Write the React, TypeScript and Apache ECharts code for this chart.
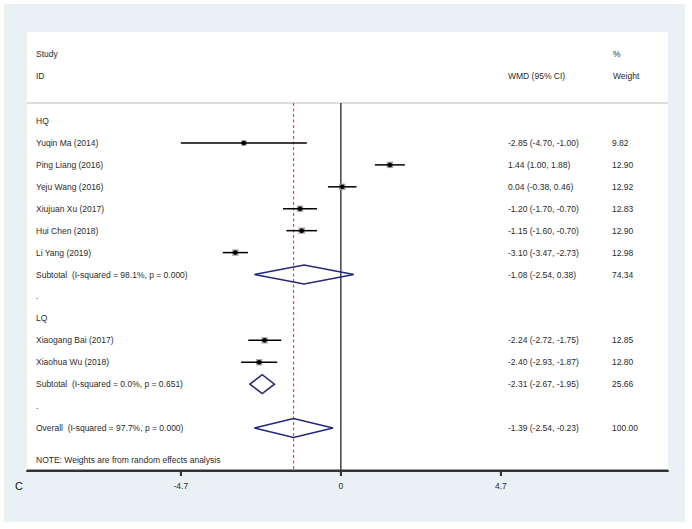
import { useEffect, useRef } from "react";
import * as echarts from "echarts";

// ---- Data ----
const rowLabels = [
  "HQ",
  "Yuqin Ma (2014)",
  "Ping Liang (2016)",
  "Yeju Wang (2016)",
  "Xiujuan Xu (2017)",
  "Hui Chen (2018)",
  "Li Yang (2019)",
  "Subtotal  (I-squared = 98.1%, p = 0.000)",
  ".",
  "LQ",
  "Xiaogang Bai (2017)",
  "Xiaohua Wu (2018)",
  "Subtotal  (I-squared = 0.0%, p = 0.651)",
  ".",
  "Overall  (I-squared = 97.7%, p = 0.000)",
];

const studyRows = [1, 2, 3, 4, 5, 6, 10, 11];
const studyEst = [-2.85, 1.44, 0.04, -1.2, -1.15, -3.1, -2.24, -2.4];
const studyLo = [-4.7, 1.0, -0.38, -1.7, -1.6, -3.47, -2.72, -2.93];
const studyHi = [-1.0, 1.88, 0.46, -0.7, -0.7, -2.73, -1.75, -1.87];
const studyWeight = [9.82, 12.9, 12.92, 12.83, 12.9, 12.98, 12.85, 12.8];

const pooledRows = [7, 12, 14];
const pooledEst = [-1.08, -2.31, -1.39];
const pooledLo = [-2.54, -2.67, -2.54];
const pooledHi = [0.38, -1.95, -0.23];
const pooledWeight = [74.34, 25.66, 100.0];

const xTicks = [-4.7, 0, 4.7];

const headerTop = ["Study", "%"];
const headerBottom = ["ID", "WMD (95% CI)", "Weight"];
const noteText = "NOTE: Weights are from random effects analysis";
const panelLetter = "C";

// ---- Layout constants ----
const GRID_LEFT = 27;
const GRID_RIGHT = 24;
const GRID_W = 692 - GRID_LEFT - GRID_RIGHT;
const X_MIN = -9.22;
const X_MAX = 9.61;
const Y_MIN = -4.06;
const Y_MAX = 15.96;
const AXIS_ROW = 15.94;
const HEADER_TOP_ROW = -3.06;
const HEADER_BOTTOM_ROW = -2.05;
const HEADER_LINE_ROW = -0.82;
const NOTE_ROW = 15.46;
const colValue = (px: number) => X_MIN + ((px - GRID_LEFT) / GRID_W) * (X_MAX - X_MIN);
const LABEL_X = colValue(36);
const WMD_X = colValue(508);
const WEIGHT_X = colValue(612);
const WEIGHT_HDR_X = colValue(613);

const FONT = '"Liberation Sans", Arial, sans-serif';
const TEXT_COLOR = "#2b2b2b";
const AXIS_COLOR = "#333333";

const fmt = (v: number) => v.toFixed(2);

export default function App() {
  const ref = useRef<HTMLDivElement>(null);

  useEffect(() => {
    if (!ref.current) return;
    const chart = echarts.init(ref.current, undefined, { renderer: "svg" });

    const texts: { x: number; row: number; text: string }[] = [];
    texts.push({ x: LABEL_X, row: HEADER_TOP_ROW, text: headerTop[0] });
    texts.push({ x: WEIGHT_HDR_X, row: HEADER_TOP_ROW, text: headerTop[1] });
    texts.push({ x: LABEL_X, row: HEADER_BOTTOM_ROW, text: headerBottom[0] });
    texts.push({ x: WMD_X, row: HEADER_BOTTOM_ROW, text: headerBottom[1] });
    texts.push({ x: WEIGHT_HDR_X, row: HEADER_BOTTOM_ROW, text: headerBottom[2] });
    rowLabels.forEach((t, i) => texts.push({ x: LABEL_X, row: i, text: t }));
    studyRows.forEach((r, i) => {
      texts.push({
        x: WMD_X,
        row: r,
        text: `${fmt(studyEst[i])} (${fmt(studyLo[i])}, ${fmt(studyHi[i])})`,
      });
      texts.push({ x: WEIGHT_X, row: r, text: fmt(studyWeight[i]) });
    });
    pooledRows.forEach((r, i) => {
      texts.push({
        x: WMD_X,
        row: r,
        text: `${fmt(pooledEst[i])} (${fmt(pooledLo[i])}, ${fmt(pooledHi[i])})`,
      });
      texts.push({ x: WEIGHT_X, row: r, text: fmt(pooledWeight[i]) });
    });
    texts.push({ x: LABEL_X, row: NOTE_ROW, text: noteText });

    const overall = pooledEst[pooledEst.length - 1];
    const guides: number[][] = [
      [X_MIN, HEADER_LINE_ROW, X_MAX, HEADER_LINE_ROW, 0],
      [0, HEADER_LINE_ROW, 0, Y_MAX, 1],
      [overall, HEADER_LINE_ROW, overall, Y_MAX, 2],
    ];

    const option: any = {
      animation: false,
      backgroundColor: "#ffffff",
      graphic: [
        {
          type: "rect",
          z: -100,
          silent: true,
          shape: { x: 4, y: 4, width: 681, height: 518 },
          style: { fill: "#eaf1f4" },
        },
        {
          type: "text",
          x: 15,
          y: 486,
          style: {
            text: panelLetter,
            fill: "#111",
            font: `11px ${FONT}`,
            align: "left",
            verticalAlign: "middle",
            textAlign: "left",
            textVerticalAlign: "middle",
          },
        },
      ],
      grid: {
        left: GRID_LEFT,
        right: GRID_RIGHT,
        top: 32,
        bottom: 58,
        show: true,
        backgroundColor: "#ffffff",
        borderWidth: 0,
      },
      xAxis: {
        type: "value",
        min: X_MIN,
        max: X_MAX,
        position: "bottom",
        splitLine: { show: false },
        axisLine: { show: true, onZero: false, lineStyle: { color: AXIS_COLOR, width: 2 } },
        axisTick: {
          show: true,
          customValues: xTicks,
          length: 5,
          lineStyle: { color: AXIS_COLOR, width: 2 },
        },
        axisLabel: {
          show: true,
          customValues: xTicks,
          margin: 10,
          color: TEXT_COLOR,
          fontSize: 8.5,
          fontFamily: FONT,
          formatter: (v: number) => (v === 0 ? "0" : v.toFixed(1)),
        },
      },
      yAxis: {
        type: "value",
        inverse: true,
        min: Y_MIN,
        max: Y_MAX,
        show: false,
        splitLine: { show: false },
        axisLine: { onZero: false },
      },
      series: [
        {
          type: "custom",
          name: "guides",
          clip: false,
          z: 5,
          data: guides,
          renderItem: (_p: any, api: any) => {
            const a = api.coord([api.value(0), api.value(1)]);
            const b = api.coord([api.value(2), api.value(3)]);
            const kind = api.value(4);
            let style: any;
            if (kind === 0) style = { stroke: "#d2d2d2", lineWidth: 1.5 };
            else if (kind === 1) style = { stroke: "#111", lineWidth: 1.2 };
            else style = { stroke: "#e0513f", lineWidth: 1.2, lineDash: [3, 2.5] };
            return {
              type: "line",
              shape: { x1: a[0], y1: a[1], x2: b[0], y2: b[1] },
              style,
            };
          },
        },
        {
          type: "custom",
          name: "axisLine",
          clip: false,
          z: 7,
          data: [[X_MIN, AXIS_ROW, X_MAX, AXIS_ROW]],
          renderItem: (_p: any, api: any) => {
            const a = api.coord([api.value(0), api.value(1)]);
            const b = api.coord([api.value(2), api.value(3)]);
            return {
              type: "line",
              shape: { x1: a[0], y1: a[1], x2: b[0], y2: b[1] },
              style: { stroke: AXIS_COLOR, lineWidth: 2 },
            };
          },
        },
        {
          type: "custom",
          name: "axisTicks",
          clip: false,
          z: 7,
          data: xTicks.map((t) => [t, AXIS_ROW, t, Y_MAX]),
          renderItem: (_p: any, api: any) => {
            const a = api.coord([api.value(0), api.value(1)]);
            return {
              type: "line",
              shape: { x1: a[0], y1: a[1], x2: a[0], y2: a[1] + 5 },
              style: { stroke: AXIS_COLOR, lineWidth: 2 },
            };
          },
        },
        {
          type: "custom",
          name: "studies",
          clip: false,
          z: 6,
          data: studyRows.map((r, i) => [studyEst[i], r, studyLo[i], studyHi[i], studyWeight[i]]),
          renderItem: (_p: any, api: any) => {
            const row = api.value(1);
            const pLo = api.coord([api.value(2), row]);
            const pHi = api.coord([api.value(3), row]);
            const pE = api.coord([api.value(0), row]);
            const s = 1.8 * Math.sqrt(api.value(4));
            return {
              type: "group",
              children: [
                {
                  type: "rect",
                  shape: { x: pE[0] - s / 2, y: pE[1] - s / 2, width: s, height: s },
                  style: { fill: "#a9a9a9" },
                },
                {
                  type: "line",
                  shape: { x1: pLo[0], y1: pLo[1], x2: pHi[0], y2: pHi[1] },
                  style: { stroke: "#000", lineWidth: 1.5 },
                },
                {
                  type: "circle",
                  shape: { cx: pE[0], cy: pE[1], r: 2.3 },
                  style: { fill: "#000" },
                },
              ],
            };
          },
        },
        {
          type: "custom",
          name: "pooled",
          clip: false,
          z: 6,
          data: pooledRows.map((r, i) => [pooledEst[i], r, pooledLo[i], pooledHi[i]]),
          renderItem: (_p: any, api: any) => {
            const row = api.value(1);
            const pE = api.coord([api.value(0), row]);
            const pLo = api.coord([api.value(2), row]);
            const pHi = api.coord([api.value(3), row]);
            const h = 9.5;
            return {
              type: "polygon",
              shape: {
                points: [
                  [pLo[0], pLo[1]],
                  [pE[0], pE[1] - h],
                  [pHi[0], pHi[1]],
                  [pE[0], pE[1] + h],
                ],
              },
              style: { fill: "none", stroke: "#22287a", lineWidth: 1.5 },
            };
          },
        },
        {
          type: "custom",
          name: "texts",
          clip: false,
          z: 6,
          data: texts.map((t) => [t.x, t.row]),
          renderItem: (p: any, api: any) => {
            const t = texts[p.dataIndex];
            const pt = api.coord([api.value(0), api.value(1)]);
            return {
              type: "text",
              x: pt[0],
              y: pt[1],
              style: {
                text: t.text,
                fill: TEXT_COLOR,
                font: `8.5px ${FONT}`,
                align: "left",
                verticalAlign: "middle",
                textAlign: "left",
                textVerticalAlign: "middle",
              },
            };
          },
        },
      ],
    };

    chart.setOption(option);
    return () => chart.dispose();
  }, []);

  return (
    <div
      ref={ref}
      style={{ position: "fixed", left: 0, top: 0, width: 692, height: 529 }}
    />
  );
}
